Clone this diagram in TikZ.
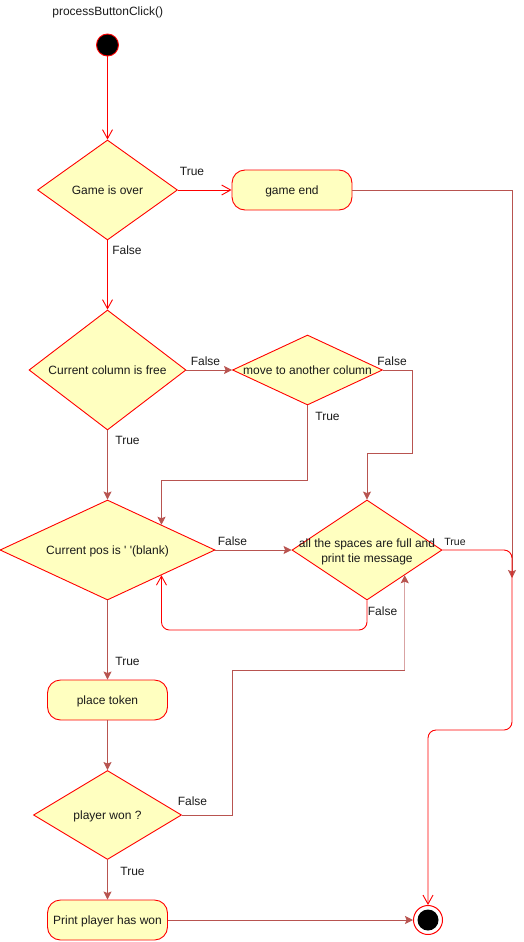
\documentclass[tikz,border=0pt]{standalone}
\usepackage{fontspec}
\setmainfont{Liberation Sans}
\usetikzlibrary{shapes.geometric,arrows.meta,calc}
\definecolor{actfill}{HTML}{FFFFC0}
\definecolor{actline}{HTML}{FF0000}
\definecolor{flow}{HTML}{B85450}
\definecolor{flowpale}{HTML}{D9A3A3}
\definecolor{txt}{HTML}{1A1A1A}

\begin{document}
\begin{tikzpicture}[x=1pt,y=-1pt,
  every node/.style={font=\fontsize{12}{14.3}\selectfont, text=txt},
  oneline/.style={text height=9.4pt, text depth=0pt},
  decision/.style={diamond, draw=actline, fill=actfill, line width=0.9pt, inner sep=0pt},
  action/.style={rectangle, rounded corners=13pt, draw=actline, fill=actfill, line width=0.9pt,
                 minimum width=120pt, minimum height=40pt, inner sep=0pt, oneline},
  guard/.style={inner sep=0pt, oneline},
  twolines/.style={inner sep=0pt, align=center, yshift=-2pt},
  darkflow/.style={draw=flow, line width=0.9pt, -{Stealth[length=8pt,width=8pt,inset=1.5pt]}},
  plainflow/.style={draw=flow, line width=0.9pt},
  paleflow/.style={draw=flowpale, line width=0.9pt, -{Stealth[length=8pt,width=8pt,inset=1.5pt,color=flow]}},
  redflow/.style={draw=actline, line width=0.9pt, -{Straight Barb[length=9pt,width=10pt]}},
]
\useasboundingbox (0,0) rectangle (524,942);

% title
\node[oneline] (title) at (107.7,11) {processButtonClick()};

% initial and final states
\node[circle, draw=actline, fill=black, minimum size=22pt, inner sep=0pt, line width=0.9pt] (start) at (107.5,45) {};
\node[circle, draw=actline, fill=white, minimum size=29pt, inner sep=0pt, line width=1pt] (stop) at (428,920) {};
\node[circle, fill=black, minimum size=21pt, inner sep=0pt] (stopdot) at (stop) {};

% decisions
\node[decision, minimum width=140pt, minimum height=100pt, label={[guard]center:Game is over}] (d1) at (107.5,190) {};
\node[decision, minimum width=157pt, minimum height=120pt, label={[guard]center:Current column is free}] (d2) at (107.5,370) {};
\node[decision, minimum width=150pt, minimum height=70pt, label={[guard]center:move to another column}] (d3) at (307.5,370) {};
\node[decision, minimum width=215pt, minimum height=100pt,
      label={[guard]center:Current pos is \textquotesingle{} \textquotesingle(blank)}] (d4) at (107.5,550) {};
\node[decision, minimum width=150pt, minimum height=100pt,
      label={[twolines]center:all the spaces are full and\\print tie message}] (d5) at (367,550) {};
\node[decision, minimum width=148pt, minimum height=89pt, label={[guard]center:player won ?}] (d6) at (107.5,815) {};

% actions
\node[action] (ge) at (292,190) {game end};
\node[action] (pt) at (107.5,700) {place token};
\node[action] (pr) at (107.5,920) {Print player has won};

% routing points
\coordinate (gj) at (512,578);
\coordinate (k1) at (307.5,480);
\coordinate (k2) at (412,453);
\coordinate (k3) at (250,630);
\coordinate (k4) at (512,730);
\coordinate (k5) at (232,670);
\coordinate (d4ne) at ($(d4.north)!.5!(d4.east)$);
\coordinate (d4se) at ($(d4.south)!.5!(d4.east)$);
\coordinate (d5se) at ($(d5.south)!.5!(d5.east)$);
\coordinate (k6) at (d5se |- k5);

% connectors
\draw[redflow] (start) -- (d1);
\draw[redflow] (d1) -- (ge);
\draw[darkflow] (ge.east) -| (gj);
\draw[redflow] (d1) -- (d2);
\draw[darkflow] (d2) -- (d3);
\draw[darkflow] (d2) -- (d4);
\draw[darkflow] (d3.south) -- (k1) -| (d4ne);
\draw[darkflow] (d3.east) -| (k2) -| (d5.north);
\draw[darkflow] (d4) -- (d5);
\draw[redflow, rounded corners=8pt] (d5.east) -| (k4) -| (stop.north);
\draw[redflow, rounded corners=8pt] (d5.south) |- (k3) -| (d4se);
\draw[darkflow] (d4) -- (pt);
\draw[darkflow] (pt) -- (d6);
\draw[plainflow] (d6.east) -| (k5) -- (k6);
\draw[paleflow] (k6) -- (d5se);
\draw[darkflow] (d6) -- (pr);
\draw[darkflow] (pr) -- (stop);

% guards
\node[guard] (g1) at (192,171) {True};
\node[guard] (g2) at (127,250) {False};
\node[guard] (g3) at (205.5,360.5) {False};
\node[guard] (g4) at (127.5,440) {True};
\node[guard] (g5) at (392,361) {False};
\node[guard] (g6) at (327.5,416) {True};
\node[guard] (g7) at (232.5,540.5) {False};
\node[guard, font=\fontsize{10.5}{12}\selectfont, text height=8.2pt] (g8) at (455,541) {True};
\node[guard] (g9) at (382.5,610.5) {False};
\node[guard] (g10) at (127.5,661) {True};
\node[guard] (g11) at (192.5,800.5) {False};
\node[guard] (g12) at (132.5,870.5) {True};
\end{tikzpicture}
\end{document}
